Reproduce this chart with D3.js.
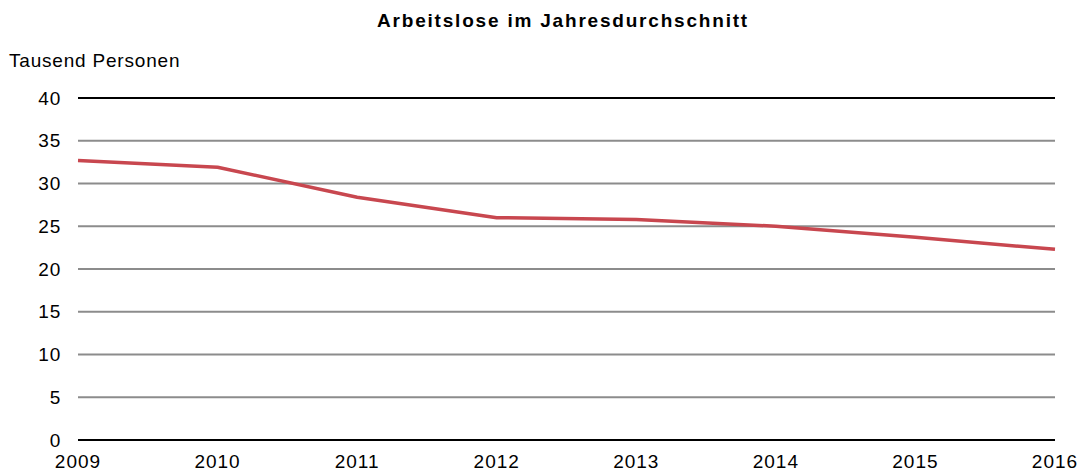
<!DOCTYPE html>
<html>
<head>
<meta charset="utf-8">
<script src="https://cdn.jsdelivr.net/npm/d3@7"></script>
<style>
  body { margin: 0; background: #fff; }
  text { font-family: "Liberation Sans", Arial, sans-serif; fill: #000; }
</style>
</head>
<body>
<script>
// Data
const years = [2009, 2010, 2011, 2012, 2013, 2014, 2015, 2016];
const values = [32.7, 31.9, 28.4, 26.0, 25.8, 25.0, 23.7, 22.3];
const yTicks = [0, 5, 10, 15, 20, 25, 30, 35, 40];

const width = 1084;
const height = 476;
const margin = { top: 98, right: 29, bottom: 36, left: 78 };
const chartWidth = width - margin.left - margin.right;
const chartHeight = height - margin.top - margin.bottom;

const xScale = d3.scaleLinear()
    .domain(d3.extent(years))
    .range([0, chartWidth]);

const yScale = d3.scaleLinear()
    .domain([0, 40])
    .range([chartHeight, 0]);

const svg = d3.select("body")
    .append("svg")
    .attr("width", width)
    .attr("height", height);

const chart = svg.append("g")
    .attr("transform", `translate(${margin.left}, ${margin.top})`);

// Gridlines
chart.selectAll(".grid")
    .data(yTicks)
    .enter()
    .append("line")
    .attr("class", "grid")
    .attr("x1", 0)
    .attr("x2", chartWidth)
    .attr("y1", d => yScale(d))
    .attr("y2", d => yScale(d))
    .attr("stroke", d => (d === 0 || d === 40) ? "#000" : "#8c8c8c")
    .attr("stroke-width", 2);

// Y labels
chart.selectAll(".ylabel")
    .data(yTicks)
    .enter()
    .append("text")
    .attr("class", "ylabel")
    .attr("x", -17)
    .attr("y", d => yScale(d))
    .attr("dy", "0.35em")
    .attr("text-anchor", "end")
    .style("font-size", "19px")
    .style("letter-spacing", "0.8px")
    .text(d => d);

// X labels
chart.selectAll(".xlabel")
    .data(years)
    .enter()
    .append("text")
    .attr("class", "xlabel")
    .attr("x", d => xScale(d))
    .attr("y", chartHeight + 28)
    .attr("text-anchor", "middle")
    .style("font-size", "19px")
    .style("letter-spacing", "1px")
    .text(d => d);

// Line
const line = d3.line()
    .x((d, i) => xScale(years[i]))
    .y(d => yScale(d));

chart.append("path")
    .datum(values)
    .attr("d", line)
    .attr("fill", "none")
    .attr("stroke", "#c8474f")
    .attr("stroke-width", 3.5)
    .attr("stroke-linejoin", "round");

// Title
svg.append("text")
    .attr("x", 563)
    .attr("y", 27)
    .attr("text-anchor", "middle")
    .style("font-size", "19px")
    .style("font-weight", "bold")
    .style("letter-spacing", "1.8px")
    .text("Arbeitslose im Jahresdurchschnitt");

svg.append("text")
    .attr("x", 9)
    .attr("y", 67)
    .style("font-size", "19px")
    .style("letter-spacing", "0.8px")
    .text("Tausend Personen");
</script>
</body>
</html>
